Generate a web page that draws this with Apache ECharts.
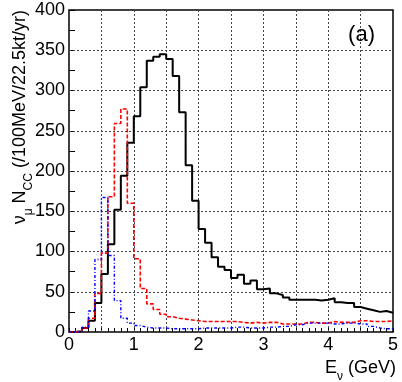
<!DOCTYPE html>
<html lang="en">

<head>
    <meta charset="UTF-8">
    <title>numu CC spectrum</title>
    <script src="https://cdn.jsdelivr.net/npm/echarts@6/dist/echarts.min.js"></script>
</head>

<body style="margin:0">
    <div id="main" style="width: 402px;height:382px;"></div>
    <script>
        // bins of 100 MeV from 0 to 5 GeV, value per bin
        let binWidth = 0.1
        let blackCounts = [0, 1, 5, 14, 36, 72, 109, 152, 194, 235,
            268, 304, 337, 342, 345, 339, 318, 273, 207, 163,
            128, 111, 93, 81, 77, 67, 71, 60, 64, 53,
            54, 48, 46, 43, 40, 40, 40, 40, 39, 40,
            42, 37, 36, 36, 31, 29, 27, 25, 26, 24]
        let redCounts = [0, 1, 5, 17, 48, 98, 168, 259, 277, 160,
            91, 54, 35, 28, 22, 19, 17, 16, 15, 14,
            13, 13, 13, 13, 13, 13, 12, 11, 12, 11,
            12, 12, 10, 10, 10, 10, 12, 12, 11, 11,
            13, 12, 12, 12, 14, 14, 13, 13, 13, 14]
        let blueCounts = [0, 0, 6, 26, 90, 167, 95, 39, 17, 11,
            8, 6, 5, 5, 5, 4, 4, 4, 4, 4,
            5, 5, 5, 5, 5, 6, 6, 5, 5, 5,
            6, 6, 7, 7, 9, 9, 11, 11, 11, 11,
            10, 10, 11, 11, 10, 10, 7, 5, 4, 4]
        let xTicks = [0, 1, 2, 3, 4, 5]
        let yTicks = [0, 50, 100, 150, 200, 250, 300, 350, 400]
        let gridX = [0.5, 1, 1.5, 2, 2.5, 3, 3.5, 4, 4.5]
        let gridY = [50, 100, 150, 200, 250, 300, 350]
    </script>
    <script>
        var chartDom = document.getElementById('main');
        var myChart = echarts.init(chartDom);
        var option;

        // left bin edges + closing edge, drawn as step 'end'
        function histo(counts) {
            let pts = counts.map((v, i) => [+(i * binWidth).toFixed(2), v])
            pts.push([+(counts.length * binWidth).toFixed(2), counts[counts.length - 1]])
            return pts
        }

        function onList(list, v) {
            return list.some(t => Math.abs(t - v) < 1e-6)
        }

        var font = 'Liberation Sans, Arial, sans-serif'
        var dotted = { show: true, lineStyle: { color: '#444', type: [2, 2], width: 1 } }

        option = {
            animation: false,
            textStyle: { fontFamily: font },
            title: {
                text: '(a)',
                right: 22,
                top: 19,
                textStyle: { fontSize: 22, fontWeight: 'normal', color: '#000', fontFamily: font }
            },
            grid: {
                show: true,
                left: 69,
                right: 9,
                top: 10,
                bottom: 50,
                borderColor: '#000',
                borderWidth: 1.5,
                backgroundColor: 'transparent'
            },
            // bottom axis carries the small 0.1 ticks and labels, top one the 0.5 grid
            xAxis: [
                {
                    type: 'value',
                    min: 0,
                    max: 5,
                    interval: 0.1,
                    axisLine: { show: false },
                    axisTick: { inside: true, length: 4, lineStyle: { color: '#000' } },
                    axisLabel: {
                        fontSize: 18,
                        color: '#000',
                        margin: 4,
                        formatter: function (v) {
                            return onList(xTicks, v) ? String(Math.round(v)) : ''
                        }
                    },
                    splitLine: { show: false }
                },
                {
                    type: 'value',
                    position: 'top',
                    min: 0,
                    max: 5,
                    interval: 0.5,
                    axisLine: { show: false },
                    axisTick: { show: false },
                    axisLabel: { show: false },
                    splitLine: dotted
                }
            ],
            yAxis: [
                {
                    type: 'value',
                    min: 0,
                    max: 400,
                    interval: 25,
                    axisLine: { show: false },
                    axisTick: { show: true, inside: true, length: 6, lineStyle: { color: '#000' } },
                    axisLabel: {
                        fontSize: 18,
                        color: '#000',
                        margin: 4,
                        formatter: function (v) {
                            return onList(yTicks, v) ? String(v) : ''
                        }
                    },
                    splitLine: { show: false }
                },
                {
                    type: 'value',
                    position: 'right',
                    min: 0,
                    max: 400,
                    interval: 50,
                    axisLine: { show: false },
                    axisTick: { show: false },
                    axisLabel: { show: false },
                    splitLine: dotted
                }
            ],
            graphic: [
                {
                    type: 'text',
                    x: 18,
                    y: 10,
                    rotation: Math.PI / 2,
                    style: {
                        text: '{a|ν}{s|μ}{a| N}{s|CC}{a| (/100MeV/22.5kt/yr)}',
                        align: 'right',
                        verticalAlign: 'middle',
                        fill: '#000',
                        rich: {
                            a: { fontSize: 18, fontFamily: font, lineHeight: 22, verticalAlign: 'bottom' },
                            s: { fontSize: 12, fontFamily: font, lineHeight: 22, verticalAlign: 'bottom', padding: [0, 0, -6, 0] }
                        }
                    }
                },
                {
                    type: 'text',
                    x: 396,
                    y: 366,
                    style: {
                        text: '{a|E}{s|ν}{a| (GeV)}',
                        align: 'right',
                        verticalAlign: 'middle',
                        fill: '#000',
                        rich: {
                            a: { fontSize: 18, fontFamily: font, lineHeight: 22, verticalAlign: 'bottom' },
                            s: { fontSize: 12, fontFamily: font, lineHeight: 22, verticalAlign: 'bottom', padding: [0, 0, -6, 0] }
                        }
                    }
                }
            ],
            series: [
                {
                    name: 'black',
                    type: 'line',
                    step: 'end',
                    symbol: 'none',
                    data: histo(blackCounts),
                    lineStyle: { color: '#000', width: 2 },
                    z: 3,
                    // dotted grid, in case the axis split lines do not show
                    markLine: {
                        z: 1,
                        silent: true,
                        animation: false,
                        symbol: ['none', 'none'],
                        label: { show: false },
                        emphasis: { disabled: true },
                        lineStyle: { color: '#444', type: [2, 2], width: 1 },
                        data: gridX.map(v => ({ xAxis: v })).concat(gridY.map(v => ({ yAxis: v })))
                    }
                },
                {
                    name: 'red',
                    type: 'line',
                    step: 'end',
                    symbol: 'none',
                    data: histo(redCounts),
                    lineStyle: { color: '#ff0000', width: 1.6, type: [4, 2] },
                    z: 4
                },
                {
                    name: 'blue',
                    type: 'line',
                    step: 'end',
                    symbol: 'none',
                    data: histo(blueCounts),
                    lineStyle: { color: '#0000ff', width: 1.4, type: [3, 2, 1, 2] },
                    z: 5
                }
            ]
        };

        option && myChart.setOption(option);
    </script>
</body>

</html>
